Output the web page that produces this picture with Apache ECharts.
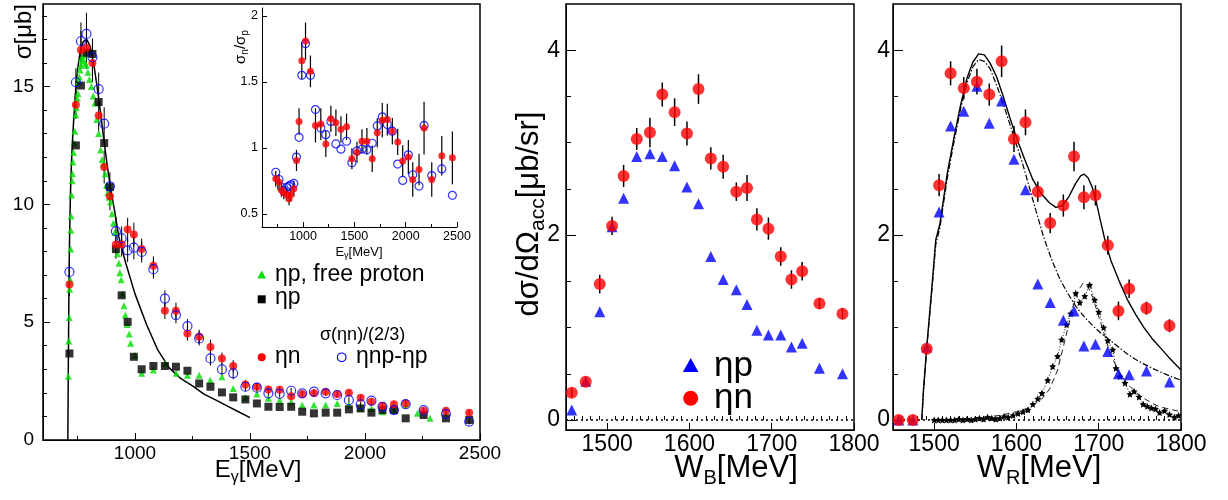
<!DOCTYPE html>
<html><head><meta charset="utf-8">
<script src="https://cdn.jsdelivr.net/npm/echarts@6/dist/echarts.min.js"></script>
<style>html,body{margin:0;padding:0;background:#fff}#c{width:1228px;height:500px}</style>
</head><body><div id="c"></div>
<script>
// ---------- LEFT PANEL: total cross sections sigma [ub] vs E_gamma [MeV] ----------
const E_bins = [715,743,765,789,815,842,866,891,917,942,968,995,1029,1080,1130,1178,1228,1279,1328,1378,1427,1480,1530,1580,1629,1679,1727,1778,1829,1879,1930,1981,2028,2076,2126,2177,2255,2352,2453];
const sig_etan = [6.6,14.22,16.55,16.64,16.0,13.77,11.58,10.34,8.29,8.29,8.93,8.72,8.1,7.39,5.48,5.48,4.52,4.38,3.95,3.46,3.14,2.35,2.26,2.14,2.13,1.86,1.95,1.98,2.05,1.95,2.0,1.79,1.62,1.45,1.52,1.55,1.24,1.24,1.16];
const sig_etanp_etap = [7.13,15.18,16.92,17.23,16.24,14.89,13.42,10.76,8.86,8.56,8.05,8.16,7.98,7.25,6.0,5.3,4.83,4.31,3.46,3.0,2.83,2.26,2.22,1.98,1.96,2.09,1.98,2.05,1.98,1.91,1.69,1.51,1.67,1.41,1.27,1.52,1.27,1.1,0.78];
const err_n = [0.5,0.6,0.8,0.9,0.8,0.7,0.7,0.6,0.6,0.5,0.5,0.5,0.45,0.4,0.35,0.35,0.3,0.3,0.3,0.25,0.25,0.2,0.15,0.15,0.15,0.12,0.12,0.12,0.12,0.12,0.12,0.12,0.12,0.12,0.12,0.15,0.12,0.12,0.12];
const sig_etap = [3.67,12.5,15.04,16.43,16.38,14.34,12.6,10.73,8.1,6.14,5.01,3.53,3.0,3.14,3.14,3.11,2.94,2.4,2.26,2.02,1.81,1.72,1.55,1.41,1.4,1.41,1.2,1.13,1.16,1.16,1.3,1.34,1.16,1.27,1.27,0.92,1.06,0.92,0.85];
const E_free = [710,712,714,716,718,720,721,722,724,726,728,730,733,735,738,742,745,749,752,755,758,761,764,768,773,778,783,788,795,802,810,818,826,834,842,850,857,864,870,876,882,888,894,900,906,912,918,924,930,934,940,946,952,958,966,975,981,1000,1029,1080,1131,1179,1228,1279,1327,1378,1427,1480,1530,1580,1629,1679,1727,1778,1829,1879,1930,1981,2028,2076,2126,2177,2228,2283];
const sig_free = [2.7,4.2,5.2,6.4,6.8,8.1,8.9,9.5,10.4,11.0,11.3,11.8,12.2,12.6,13.1,13.8,14.1,14.5,14.7,15.2,15.4,15.7,15.9,16.2,16.1,16.3,16.0,15.9,15.6,15.3,15.0,14.6,14.3,13.6,13.0,12.3,11.9,11.7,11.3,10.8,10.5,10.3,10.1,9.6,9.2,8.8,8.3,7.9,7.5,7.1,6.8,6.2,5.7,5.3,4.9,4.5,4.1,3.6,2.83,2.97,3.25,2.83,2.75,2.75,2.54,2.68,2.19,1.8,1.95,1.77,1.69,1.62,1.48,1.48,1.48,1.55,1.48,1.34,1.34,1.2,1.27,1.48,1.13,0.92];
const E_fit = [708,710,712,714,716,719,722,727,733,740,750,762,775,790,805,820,835,850,865,880,895,910,930,960,1000,1050,1100,1150,1200,1250,1300,1350,1400,1450,1500];
const sig_fit = [0,3.0,5.5,7.5,8.9,10.3,11.3,12.5,13.5,14.6,15.7,16.5,16.9,17.0,16.7,16.0,15.0,13.9,12.7,11.6,10.6,9.8,8.6,7.5,6.2,4.9,3.8,3.05,2.6,2.3,1.95,1.7,1.45,1.2,0.95];
const xTicksLeft = [1000,1500,2000,2500];
const yTicksLeft = [0,5,10,15];

// ---------- INSET: sigma_n / sigma_p ----------
const E_ratio = [734,766,789,812,838,864,880,910,936,961,988,1024,1072,1121,1173,1222,1271,1320,1369,1424,1476,1525,1574,1622,1674,1723,1772,1821,1870,1922,1971,2026,2069,2130,2179,2254,2352,2455];
const ratio_etan = [0.765,0.74,0.68,0.66,0.646,0.614,0.646,0.69,0.904,1.2,1.66,1.81,1.58,1.17,1.18,1.03,1.22,1.19,1.14,1.16,0.917,0.967,1.05,1.05,0.917,1.114,1.21,1.214,1.126,1.045,0.9,0.93,0.76,0.836,1.15,0.76,0.94,0.924];
const ratio_etanp = [0.815,0.76,0.7,0.675,0.7,0.71,0.72,0.73,0.93,1.08,1.55,1.79,1.55,1.29,1.15,1.1,1.2,1.03,0.99,1.05,0.887,0.977,0.99,0.985,1.035,1.166,1.235,1.177,1.126,0.877,0.753,0.947,0.796,0.71,1.17,0.79,0.84,0.64];
const ratio_err = [0.06,0.06,0.05,0.05,0.05,0.05,0.05,0.06,0.08,0.1,0.14,0.14,0.12,0.13,0.12,0.1,0.1,0.1,0.1,0.1,0.08,0.08,0.09,0.1,0.1,0.11,0.13,0.12,0.1,0.1,0.12,0.13,0.13,0.12,0.2,0.13,0.15,0.2];
const xTicksInset = [1000,1500,2000,2500];
const yTicksInset = [0.5,1,1.5,2];

// ---------- MIDDLE: dsigma/dOmega vs W_B ----------
const W_bins = [1457,1474,1491,1506,1520,1536,1552,1567,1582,1597,1611,1626,1641,1657,1670,1682,1696,1711,1724,1737,1758,1786];
const dsB_etan = [0.295,0.414,1.47,2.1,2.64,3.04,3.11,3.52,3.33,3.1,3.58,2.83,2.74,2.47,2.51,2.17,2.07,1.77,1.52,1.61,1.26,1.15];
const dsB_etan_err = [0.05,0.04,0.1,0.1,0.12,0.12,0.16,0.13,0.15,0.13,0.16,0.12,0.13,0.1,0.14,0.12,0.12,0.1,0.1,0.1,0.06,0.06];
const dsB_etap = [0.108,0.42,1.17,2.09,2.4,2.85,2.88,2.85,2.75,2.52,2.34,1.77,1.52,1.41,1.25,0.97,0.92,0.92,0.79,0.83,0.56,0.5];

// ---------- RIGHT: dsigma/dOmega vs W_R ----------
const dsR_etan = [0,0,0.77,2.54,3.75,3.59,3.66,3.52,3.88,3.04,3.22,2.47,2.13,2.32,2.85,2.41,2.43,1.89,1.18,1.42,1.21,1.02];
const dsR_etan_err = [0.02,0.02,0.05,0.12,0.13,0.12,0.14,0.12,0.17,0.14,0.14,0.11,0.11,0.12,0.16,0.13,0.11,0.1,0.1,0.1,0.07,0.07];
const dsR_etap = [0,0,0.79,2.25,3.18,3.34,3.61,3.21,3.45,2.82,2.49,1.47,1.27,1.08,1.18,0.8,0.82,0.74,0.5,0.49,0.53,0.41];
const W_fit_total = [1485,1487,1491,1497,1502,1507,1516,1524,1532,1540,1547,1554,1561,1568,1576,1584,1592,1601,1610,1620,1630,1640,1648,1656,1664,1672,1678,1682,1687,1692,1697,1702,1708,1715,1725,1735,1745,1755,1765,1775,1785,1800];
const fit_total = [0,0.32,0.79,1.41,1.95,2.12,2.67,3.05,3.4,3.7,3.87,3.96,3.95,3.86,3.71,3.5,3.27,3.03,2.82,2.6,2.45,2.35,2.3,2.32,2.42,2.56,2.64,2.66,2.62,2.52,2.36,2.16,1.93,1.72,1.5,1.3,1.14,1.0,0.88,0.78,0.68,0.54];
const W_fit_s11 = [1485,1487,1491,1497,1502,1507,1516,1524,1532,1540,1547,1554,1561,1568,1576,1584,1592,1600,1608,1620,1633,1643,1653,1663,1673,1684,1694,1704,1714,1724,1734,1744,1754,1765,1775,1788,1800];
const fit_s11 = [0,0.3,0.77,1.38,1.9,2.08,2.62,3.0,3.36,3.65,3.82,3.9,3.88,3.8,3.62,3.42,3.2,2.98,2.76,2.38,1.98,1.73,1.52,1.36,1.22,1.1,1.01,0.93,0.86,0.79,0.72,0.66,0.61,0.56,0.52,0.47,0.43];
const W_fit_bw = [1500,1530,1560,1580,1600,1615,1630,1640,1650,1660,1668,1675,1681,1687,1693,1700,1707,1714,1724,1734,1745,1754,1765,1775,1790,1800];
const fit_bw = [0.0,0.01,0.03,0.05,0.09,0.13,0.22,0.33,0.54,0.9,1.2,1.4,1.48,1.44,1.32,1.12,0.92,0.72,0.53,0.4,0.3,0.24,0.18,0.14,0.11,0.09];
const W_stars = [1500,1505,1510,1515,1520,1525,1530,1535,1540,1545,1550,1555,1560,1565,1570,1575,1580,1585,1590,1596,1602,1608,1614,1620,1626,1631,1638,1644,1650,1655,1661,1666,1672,1677,1683,1689,1695,1700,1706,1711,1717,1721,1726,1732,1738,1743,1749,1754,1759,1764,1769,1774,1780,1786,1792,1797];
const stars_val = [0,0,0,0,0,0,0.01,0,0.01,0,0.01,0.02,0.01,0.03,0.02,0.01,0.02,0.04,0.03,0.05,0.07,0.09,0.11,0.17,0.23,0.29,0.43,0.58,0.69,0.87,1.03,1.15,1.37,1.27,1.34,1.46,1.3,1.17,1.0,0.86,0.76,0.56,0.47,0.4,0.28,0.31,0.25,0.17,0.15,0.13,0.12,0.08,0.1,0.06,0.03,0.05];
const xTicksW = [1500,1600,1700,1800];
const yTicksDS = [0,2,4];

// ================== chart =====================
const FONT = 'Liberation Sans, Arial, Helvetica, sans-serif';
const xAxes = [], yAxes = [];
function mkAxes(list, pos, grid, min, max, majors, minors, fs, lenMaj, lenMin, margin) {
  list.push({type:'value', position:pos, gridIndex:grid, min:min, max:max,
    axisLine:{show:true, onZero:false, lineStyle:{color:'#000', width:1}},
    axisTick:{show:true, inside:true, length:lenMaj, customValues:majors, lineStyle:{color:'#000', width:1}},
    axisLabel:{show:true, customValues:majors, fontSize:fs, fontFamily:FONT, color:'#000', margin:margin, formatter:v=>String(v)},
    splitLine:{show:false}});
  const idx = list.length-1;
  if (minors) list.push({type:'value', position:pos, gridIndex:grid, min:min, max:max,
    axisLine:{show:false}, axisTick:{show:true, inside:true, length:lenMin, customValues:minors, lineStyle:{color:'#000', width:1}},
    axisLabel:{show:false}, splitLine:{show:false}});
  return idx;
}
function range(a,b,s,skip){const r=[];for(let v=a;v<=b+1e-9;v+=s){const vv=Math.round(v*1000)/1000;if(!skip.includes(vv))r.push(vv);}return r;}

const xL = mkAxes(xAxes,'bottom',0,600,2500,xTicksLeft,[750,1250,1750,2250],19,7,4,4);
const yL = mkAxes(yAxes,'left',0,0,18.5,yTicksLeft,range(1,18,1,yTicksLeft),19,7,4,9);
const xI = mkAxes(xAxes,'bottom',1,600,2500,xTicksInset,[750,1250,1750,2250],12.5,5,3,3);
const yI = mkAxes(yAxes,'left',1,0.4,2.06,yTicksInset,null,12.5,5,3,4);
const xM = mkAxes(xAxes,'bottom',2,1450,1800,xTicksW,range(1460,1790,10,xTicksW),23,7,4,3);
const yM = mkAxes(yAxes,'left',2,-0.108,4.5,yTicksDS,[0.5,1,1.5,2.5,3,3.5],23,10,5,6);
const xR = mkAxes(xAxes,'bottom',3,1450,1800,xTicksW,range(1460,1790,10,xTicksW),23,7,4,3);
const yR = mkAxes(yAxes,'left',3,-0.108,4.5,yTicksDS,[0.5,1,1.5,2.5,3,3.5],23,10,5,3);

function zip(xs,ys){return xs.map((x,i)=>[x,ys[i]]);}
function errBars(xi,yi,xs,ys,es,color,w){
  return {type:'custom', xAxisIndex:xi, yAxisIndex:yi, silent:true, z:2, clip:true,
    dimensions:['x','lo','hi'], encode:{x:0, y:[1,2]},
    data: xs.map((x,i)=>[x, ys[i]-es[i], ys[i]+es[i]]),
    renderItem:(p,api)=>{const a=api.coord([api.value(0),api.value(1)]), b=api.coord([api.value(0),api.value(2)]);
      return {type:'line', shape:{x1:a[0],y1:a[1],x2:b[0],y2:b[1]}, style:{stroke:color, lineWidth:w}};}};
}
function pts(xi,yi,xs,ys,symbol,size,style,z){
  return {type:'scatter', xAxisIndex:xi, yAxisIndex:yi, symbol:symbol, symbolSize:size, itemStyle:style, z:z, silent:true, clip:true, data:zip(xs,ys)};
}
function curve(xi,yi,xs,ys,ls,z,extra){
  return Object.assign({type:'line', xAxisIndex:xi, yAxisIndex:yi, showSymbol:false, symbol:'none', lineStyle:ls, z:z, silent:true, clip:true, data:zip(xs,ys)}, extra||{});
}
const RED='#ff0000', BLUE='#0000ff', GREEN='#00dd00';
const STAR='path://M0,-10L2.9,-4L9.5,-3.1L4.7,1.5L5.9,8.1L0,5L-5.9,8.1L-4.7,1.5L-9.5,-3.1L-2.9,-4Z';

const series = [
  curve(xL,yL,E_fit,sig_fit,{color:'#000',width:1.5},3),
  errBars(xL,yL,E_bins,sig_etan,err_n,'#000',1),
  errBars(xL,yL,E_bins,sig_etanp_etap,err_n,'#000',1),
  pts(xL,yL,E_free,sig_free,'triangle',7,{color:GREEN},4),
  pts(xL,yL,E_bins,sig_etap,'rect',8,{color:'#000'},5),
  pts(xL,yL,E_bins,sig_etan,'circle',8,{color:RED},6),
  pts(xL,yL,E_bins,sig_etanp_etap,'circle',9,{color:'rgba(255,255,255,0)',borderColor:BLUE,borderWidth:1.2},7),
  errBars(xI,yI,E_ratio,ratio_etan,ratio_err,'#000',1.2),
  pts(xI,yI,E_ratio,ratio_etanp,'circle',8,{color:'rgba(255,255,255,0)',borderColor:BLUE,borderWidth:1.2},6),
  pts(xI,yI,E_ratio,ratio_etan,'circle',7,{color:RED},7),
  curve(xM,yM,[1450,1800],[0,0],{color:'#000',width:1.5,type:[2,3]},2),
  errBars(xM,yM,W_bins,dsB_etan,dsB_etan_err,'#000',1.5),
  pts(xM,yM,W_bins,dsB_etap,'triangle',11,{color:BLUE},5),
  pts(xM,yM,W_bins,dsB_etan,'circle',12,{color:RED},6),
  curve(xR,yR,[1450,1800],[0,0],{color:'#000',width:1.5,type:[2,3]},2),
  curve(xR,yR,W_fit_bw,fit_bw,{color:'#222',width:1,type:[6,4]},3),
  curve(xR,yR,W_stars,stars_val,{color:'#000',width:1,type:[1,2]},3,{showSymbol:true,showAllSymbol:true,symbol:STAR,symbolSize:7,itemStyle:{color:'#000'}}),
  curve(xR,yR,W_fit_s11,fit_s11,{color:'#000',width:1.2,type:[6,2,1.5,2]},3),
  curve(xR,yR,W_fit_total,fit_total,{color:'#000',width:1.4},3),
  errBars(xR,yR,W_bins,dsR_etan,dsR_etan_err,'#000',1.5),
  pts(xR,yR,W_bins,dsR_etap,'triangle',11,{color:BLUE},5),
  pts(xR,yR,W_bins,dsR_etan,'circle',12,{color:RED},6),
];

function txt(x,y,text,fs,align,vAlign,extra){
  return Object.assign({type:'text', x:x, y:y, silent:true, z:100,
    style:{text:text, fontSize:fs, fontFamily:FONT, fill:'#000', textAlign:align||'left', align:align||'left', textVerticalAlign:vAlign||'middle', verticalAlign:vAlign||'middle'}}, extra||{});
}
function richTxt(x,y,text,fs,sfs,lh,align,rot){
  return {type:'text', x:x, y:y, rotation:rot||0, silent:true, z:100,
    style:{text:text, fontFamily:FONT, fill:'#000', textAlign:align, align:align, textVerticalAlign:'middle', verticalAlign:'middle',
      rich:{a:{fontSize:fs, fontFamily:FONT, color:'#000', lineHeight:lh}, s:{fontSize:sfs, fontFamily:FONT, color:'#000', lineHeight:sfs, verticalAlign:'bottom'}}}};
}
const graphics = [
  richTxt(24,4,'{a|σ[μb]}',24,16,30,'right',Math.PI/2),
  richTxt(258,470,'{a|E}{s|γ}{a|[MeV]}',24,16,32,'center',0),
  richTxt(241,47,'{a|σ}{s|n}{a|/σ}{s|p}',15,10,18,'center',Math.PI/2),
  richTxt(359,252,'{a|E}{s|γ}{a|[MeV]}',13,9,17,'center',0),
  richTxt(529,214,'{a|dσ/dΩ}{s|acc}{a|[μb/sr]}',31,21,40,'center',Math.PI/2),
  richTxt(736,468,'{a|W}{s|B}{a|[MeV]}',31,20,40,'center',0),
  richTxt(1039,468,'{a|W}{s|R}{a|[MeV]}',31,20,40,'center',0),
  {type:'polygon', silent:true, z:100, shape:{points:[[261.7,270.5],[266,278.5],[257.4,278.5]]}, style:{fill:GREEN}},
  txt(275,275,'ηp, free proton',23),
  {type:'rect', silent:true, z:100, shape:{x:257.7,y:295.3,width:8,height:8}, style:{fill:'#000'}},
  txt(275,298,'ηp',23),
  txt(320,335,'σ(ηn)/(2/3)',18),
  {type:'circle', silent:true, z:100, shape:{cx:261.7,cy:357.3,r:4}, style:{fill:RED}},
  txt(275,357,'ηn',23),
  {type:'circle', silent:true, z:100, shape:{cx:341.7,cy:357.3,r:4.3}, style:{fill:'none',stroke:BLUE,lineWidth:1.2}},
  txt(356,357,'ηnp-ηp',23),
  {type:'polygon', silent:true, z:100, shape:{points:[[690.7,358],[698.5,372],[682.9,372]]}, style:{fill:BLUE}},
  txt(714,366,'ηp',35),
  {type:'circle', silent:true, z:100, shape:{cx:690.7,cy:398.3,r:7.5}, style:{fill:RED}},
  txt(714,398,'ηn',35),
];

const option = {
  animation:false,
  backgroundColor:'#fff',
  grid:[
    {left:43, top:4, width:437, height:436, show:true, borderColor:'#000', borderWidth:1.5, backgroundColor:'#fff'},
    {left:262, top:8, width:195, height:219, show:false},
    {left:566, top:4, width:288, height:426, show:true, borderColor:'#000', borderWidth:1.5, backgroundColor:'#fff'},
    {left:893, top:4, width:288, height:426, show:true, borderColor:'#000', borderWidth:1.5, backgroundColor:'#fff'}
  ],
  xAxis:xAxes, yAxis:yAxes, series:series, graphic:graphics
};
const chart = echarts.init(document.getElementById('c'), null, {renderer:'canvas', width:1228, height:500});
chart.setOption(option);
</script></body></html>
